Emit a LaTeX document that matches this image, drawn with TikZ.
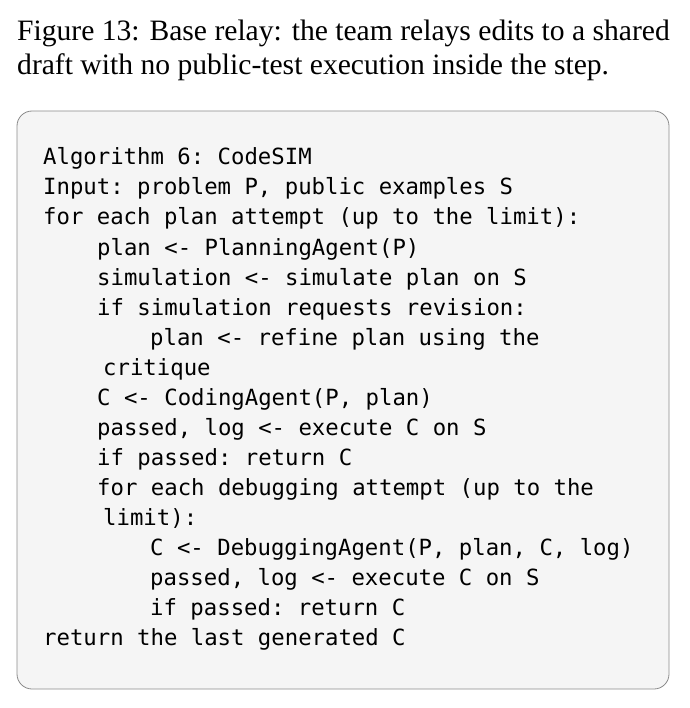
\documentclass[tikz,border=0pt]{standalone}
\usepackage{fontspec}
\setmainfont{Liberation Serif}
\setmonofont{DejaVu Sans Mono}
\definecolor{boxfill}{HTML}{F5F5F5}
\definecolor{boxline}{HTML}{8A8A8A}
\tikzset{
  caption/.style={anchor=base west,inner sep=0pt,font=\fontsize{29.6}{34}\selectfont},
  code/.style={anchor=base west,inner sep=0pt,font=\ttfamily\fontsize{22.3}{30}\selectfont},
  algobox/.style={draw=boxline,fill=boxfill,line width=0.8pt,rounded corners=15pt}
}
\begin{document}
\begin{tikzpicture}[x=1pt,y=-1pt]
\useasboundingbox (0,0) rectangle (689,708);

% caption
\node[caption] (cap1) at (17,41) {Figure 13: Base relay: the team relays edits to a shared};
\node[caption] (cap2) at (17,75) {draft with no public-test execution inside the step.};

% algorithm box
\draw[algobox] (17,111) rectangle (669,689);

% code lines
\foreach \i/\x/\t in {
  1/43/{Algorithm 6: CodeSIM},
  2/43/{Input: problem P, public examples S},
  3/43/{for each plan attempt (up to the limit):},
  4/97/{plan <- PlanningAgent(P)},
  5/97/{simulation <- simulate plan on S},
  6/97/{if simulation requests revision:},
  7/150/{plan <- refine plan using the},
  8/103/{critique},
  9/97/{C <- CodingAgent(P, plan)},
  10/97/{passed, log <- execute C on S},
  11/97/{if passed: return C},
  12/97/{for each debugging attempt (up to the},
  13/103/{limit):},
  14/150/{C <- DebuggingAgent(P, plan, C, log)},
  15/150/{passed, log <- execute C on S},
  16/150/{if passed: return C},
  17/43/{return the last generated C}}
  \node[code] (line\i) at (\x,{165+30*(\i-1)}) {\t};
\end{tikzpicture}
\end{document}
